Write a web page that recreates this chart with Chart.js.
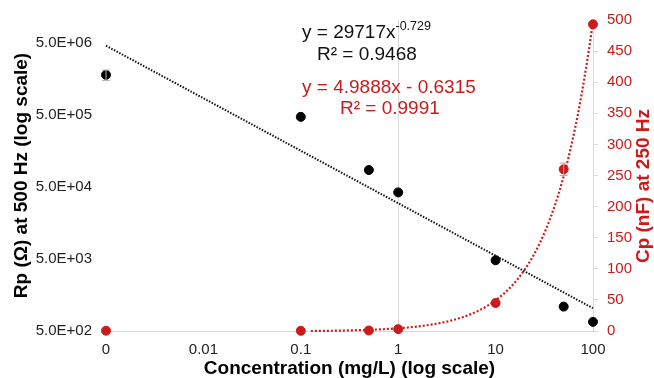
<!DOCTYPE html>
<html>
<head>
<meta charset="utf-8">
<script src="https://cdn.jsdelivr.net/npm/chart.js@4.4.1/dist/chart.umd.min.js"></script>
<style>
  html, body { margin: 0; padding: 0; background: #fff; }
  #wrap { width: 654px; height: 378px; }
</style>
</head>
<body>
<div id="wrap"><canvas id="c" width="654" height="378"></canvas></div>
<script>
// concentrations (0.001 is plotted as "0")
const conc = [0.001, 0.1, 0.5, 1, 10, 50, 100];
const xTicks = [0.001, 0.01, 0.1, 1, 10, 100];
const xTickLabels = ["0", "0.01", "0.1", "1", "10", "100"];

// Rp at 500 Hz (ohm)
const rp = [1.8e6, 4.7e5, 8.6e4, 4.2e4, 4.8e3, 1090, 670];
const rpErr = [3.0e5, 0, 0, 0, 0, 0, 0];
const rpTicks = [500, 5000, 50000, 500000, 5000000];

// Cp at 250 Hz (nF)
const cp = [0.5, 0.3, 0.8, 3, 45, 260, 493];
const cpErr = [0, 0, 0, 0, 0, 10, 0];

// fitted trendlines as printed on the chart
const powA = 29717, powB = -0.729;
const linM = 4.9888, linC = -0.6315;

const RED = "#cc1a1a";
const FONT = "'Liberation Sans', Arial, sans-serif";

const rpPts = conc.map((x, i) => ({ x: x, y: rp[i] }));
const cpPts = conc.map((x, i) => ({ x: x, y: cp[i] }));

const powLine = [0.001, 100].map((x) => ({ x: x, y: powA * Math.pow(x, powB) }));
const linLine = [];
for (let k = 0; k <= 90; k++) {
  const x = 0.127 * Math.pow(100 / 0.127, k / 90);
  linLine.push({ x: x, y: linM * x + linC });
}

function sci(v) {
  const e = Math.floor(Math.log10(v) + 1e-9);
  const m = v / Math.pow(10, e);
  return m.toFixed(1) + "E+" + String(e).padStart(2, "0");
}

// error bars
const errorBars = {
  id: "errorBars",
  afterDatasetsDraw(chart) {
    const ctx = chart.ctx;
    const xs = chart.scales.x;
    const sets = [[rp, rpErr, chart.scales.y], [cp, cpErr, chart.scales.y2]];
    ctx.save();
    ctx.strokeStyle = "#b0b0b0";
    ctx.lineWidth = 1;
    sets.forEach(([vals, errs, ys]) => {
      vals.forEach((v, i) => {
        if (!errs[i]) return;
        const px = xs.getPixelForValue(conc[i]);
        const y1 = ys.getPixelForValue(v + errs[i]);
        const y2 = ys.getPixelForValue(v - errs[i]);
        ctx.beginPath();
        ctx.moveTo(px, y1); ctx.lineTo(px, y2);
        ctx.moveTo(px - 4, y1); ctx.lineTo(px + 4, y1);
        ctx.moveTo(px - 4, y2); ctx.lineTo(px + 4, y2);
        ctx.stroke();
      });
    });
    ctx.restore();
  }
};

// equations and right axis title
const labels = {
  id: "labels",
  afterDraw(chart) {
    const ctx = chart.ctx;
    ctx.save();
    ctx.textBaseline = "alphabetic";
    ctx.textAlign = "left";
    ctx.font = "19px " + FONT;
    ctx.fillStyle = "#111";
    const s1 = "y = 29717x";
    ctx.fillText(s1, 302, 37.5);
    const w1 = ctx.measureText(s1).width;
    ctx.font = "12.5px " + FONT;
    ctx.fillText("-0.729", 302 + w1, 30);
    ctx.font = "19px " + FONT;
    ctx.fillText("R² = 0.9468", 317, 59.5);
    ctx.fillStyle = RED;
    ctx.fillText("y = 4.9888x - 0.6315", 302, 92.5);
    ctx.fillText("R² = 0.9991", 340, 113.5);

    // right title reads bottom-to-top
    ctx.translate(644, 186);
    ctx.rotate(-Math.PI / 2);
    ctx.textAlign = "center";
    ctx.textBaseline = "middle";
    ctx.font = "bold 19px " + FONT;
    ctx.fillText("Cp (nF) at 250 Hz", 0, 0);
    ctx.restore();
  }
};

new Chart(document.getElementById("c"), {
  type: "scatter",
  data: {
    datasets: [
      {
        label: "Rp",
        data: rpPts,
        yAxisID: "y",
        backgroundColor: "#000",
        borderColor: "#000",
        pointRadius: 4.5,
        clip: false,
      },
      {
        label: "Cp",
        data: cpPts,
        yAxisID: "y2",
        backgroundColor: RED,
        borderColor: RED,
        pointRadius: 4.5,
        clip: false,
      },
      {
        label: "Power fit",
        data: powLine,
        yAxisID: "y",
        showLine: true,
        pointRadius: 0,
        borderColor: "#111",
        borderWidth: 2,
        borderDash: [1.5, 1.5],
        clip: false,
      },
      {
        label: "Linear fit",
        data: linLine,
        yAxisID: "y2",
        showLine: true,
        pointRadius: 0,
        borderColor: RED,
        borderWidth: 2.2,
        borderDash: [2, 2],
        clip: false,
      },
    ],
  },
  options: {
    responsive: false,
    animation: false,
    layout: { padding: { top: 20, left: 0, right: 0, bottom: 0 } },
    plugins: { legend: { display: false }, tooltip: { enabled: false } },
    scales: {
      x: {
        type: "logarithmic",
        min: 0.001,
        max: 100,
        afterBuildTicks: (s) => { s.ticks = xTicks.map((v) => ({ value: v })); },
        afterFit: (s) => { s.height = 47; },
        ticks: {
          padding: 10,
          color: "#222",
          font: { family: FONT, size: 15 },
          callback: (v, i) => xTickLabels[i],
        },
        grid: {
          drawTicks: false,
          color: (c) => (c.tick && c.tick.value === 1 ? "#d9d9d9" : "rgba(0,0,0,0)"),
        },
        border: { display: true, color: "#d9d9d9" },
        title: {
          display: true,
          text: "Concentration (mg/L) (log scale)",
          color: "#000",
          font: { family: FONT, size: 19, weight: "bold", lineHeight: 1 },
          padding: { top: 0, bottom: 0 },
        },
      },
      y: {
        type: "logarithmic",
        position: "left",
        min: 500,
        max: 1.04e7,
        afterBuildTicks: (s) => { s.ticks = rpTicks.map((v) => ({ value: v })); },
        afterFit: (s) => { s.width = 106; },
        ticks: {
          padding: 6,
          color: "#222",
          font: { family: FONT, size: 15 },
          callback: (v) => sci(v),
        },
        grid: { display: false },
        border: { display: false },
        title: {
          display: true,
          text: "Rp (Ω) at 500 Hz (log scale)",
          color: "#000",
          font: { family: FONT, size: 19, weight: "bold", lineHeight: 1 },
          padding: { top: 12, bottom: 0 },
        },
      },
      y2: {
        type: "linear",
        position: "right",
        min: 0,
        max: 500,
        afterFit: (s) => { s.width = 61; },
        ticks: {
          stepSize: 50,
          padding: 9,
          color: RED,
          font: { family: FONT, size: 15 },
        },
        grid: { drawOnChartArea: false, drawTicks: true, tickLength: 5, color: "#d9d9d9" },
        border: { display: true, color: "#d9d9d9" },
      },
    },
  },
  plugins: [errorBars, labels],
});
</script>
</body>
</html>
